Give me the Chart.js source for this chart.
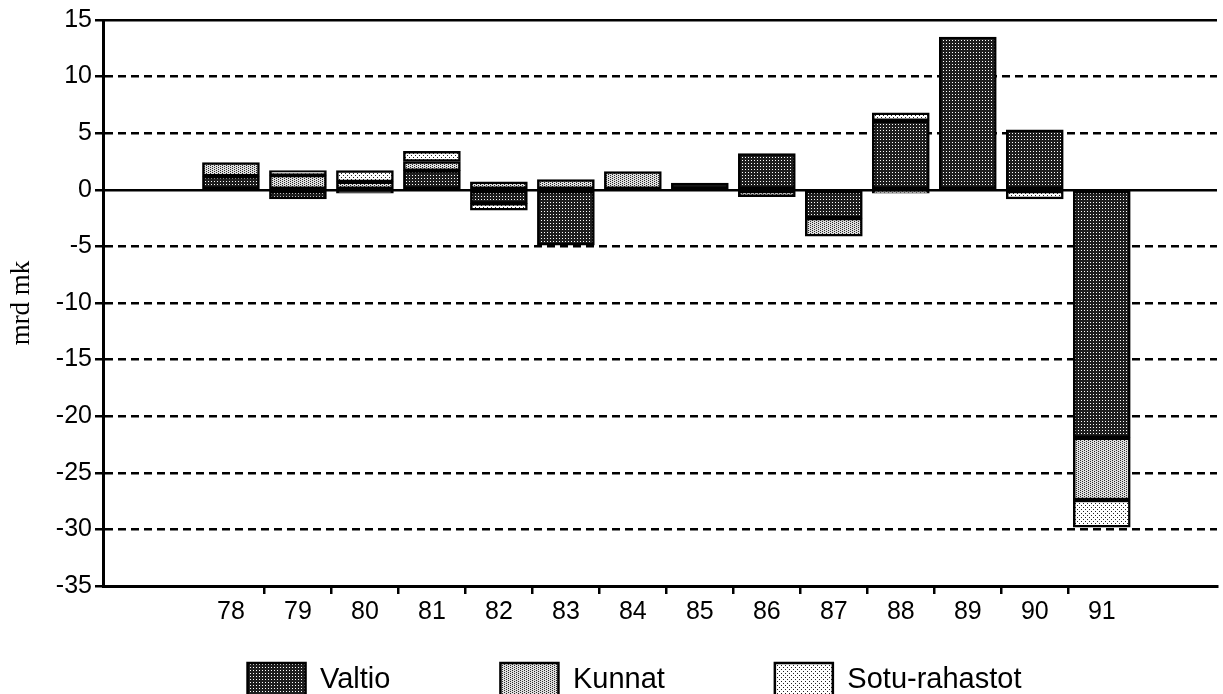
<!DOCTYPE html>
<html><head><meta charset="utf-8">
<script src="https://cdn.jsdelivr.net/npm/chart.js@4.4.0/dist/chart.umd.min.js"></script>
<style>
html,body{margin:0;padding:0;background:#fff;overflow:hidden}
#wrap{position:absolute;left:0;top:0;width:1223px;height:807px}
</style>
</head><body>
<div id="wrap"><canvas id="c"></canvas></div>
<script>
// ---- data ----
const categories = ['78','79','80','81','82','83','84','85','86','87','88','89','90','91'];
const valtio = [1.2, -0.8, -0.3, 1.7, -1.2, -4.9, null, 0.6, 3.2, -2.5, 6.1, 13.5, 5.3, -21.9];
const kunnat = [1.2, 1.3, 0.7, 0.8, 0.7, 0.9, 1.6, null, -0.6, -1.6, -0.3, null, null, -5.5];
const sotu   = [null, 0.4, 1.0, 0.9, -0.6, null, null, null, null, null, 0.7, null, -0.8, -2.4];
const seriesNames = ['Valtio', 'Kunnat', 'Sotu-rahastot'];
const yTicks = [15, 10, 5, 0, -5, -10, -15, -20, -25, -30, -35];
const yTitle = 'mrd mk';

// ---- fill patterns ----
function pattern(w, h, bg, fg, dots) {
  const c = document.createElement('canvas');
  c.width = w; c.height = h;
  const g = c.getContext('2d');
  g.fillStyle = bg; g.fillRect(0, 0, w, h);
  g.fillStyle = fg;
  dots.forEach(([x, y]) => g.fillRect(x, y, 1, 1));
  return g.createPattern(c, 'repeat');
}
const pat = [
  pattern(3, 3, '#1e1e1e', '#ffffff', [[1, 1]]),
  pattern(4, 4, '#dedede', '#2a2a2a', [[0, 0], [2, 1], [0, 2], [2, 3]]),
  pattern(4, 4, '#ffffff', '#222222', [[1, 1], [3, 3]])
];

const xs = categories.map(Number);
const seriesValues = [valtio, kunnat, sotu];
const datasets = seriesNames.map((name, i) => ({
  label: name,
  data: xs.map((x, j) => ({x: x, y: seriesValues[i][j]})),
  backgroundColor: pat[i],
  borderColor: '#000',
  borderWidth: 2.5,
  borderSkipped: false,
  barThickness: 57
}));

const xMin = xs[0] - 1.91, xMax = xs[xs.length - 1] + 1.72;
const LEGEND_PAD = 110;

const legendPlace = {
  id: 'legendPlace',
  afterLayout(chart) {
    const lg = chart.legend;
    if (!lg) return;
    lg.top = lg.top + 10 - LEGEND_PAD;
    lg.bottom = lg.top + lg.height;
    lg.left += 26; lg.right += 26;
  }
};

Chart.defaults.font.family = "'Liberation Sans', Arial, sans-serif";
Chart.defaults.color = '#000';

new Chart(document.getElementById('c'), {
  type: 'bar',
  data: {datasets},
  plugins: [legendPlace],
  options: {
    responsive: true,
    maintainAspectRatio: false,
    animation: false,
    layout: {padding: {top: 20, right: 6, left: 0, bottom: 0}},
    plugins: {
      tooltip: {enabled: false},
      legend: {
        position: 'bottom',
        labels: {
          boxWidth: 58, boxHeight: 34, padding: LEGEND_PAD,
          font: {size: 29}, color: '#000'
        }
      }
    },
    scales: {
      x: {
        type: 'linear',
        stacked: true,
        offset: false,
        min: xMin, max: xMax,
        afterBuildTicks: (s) => {
          const t = [];
          xs.forEach((v, i) => { t.push({value: v}); if (i < xs.length - 1) t.push({value: v + 0.5}); });
          s.ticks = t;
        },
        afterFit: (s) => { s.height = 67; },
        ticks: {
          autoSkip: false, maxRotation: 0, padding: 3,
          font: {size: 25}, color: '#000',
          callback: (v) => { const i = xs.indexOf(v); return i >= 0 ? categories[i] : ''; }
        },
        grid: {
          offset: false,
          drawOnChartArea: false, drawTicks: true, tickLength: 8,
          lineWidth: 2.5,
          tickColor: (ctx) => Number.isInteger(ctx.tick && ctx.tick.value) ? 'rgba(0,0,0,0)' : '#000'
        },
        border: {display: true, color: '#000', width: 3}
      },
      y: {
        stacked: true,
        min: yTicks[yTicks.length - 1], max: yTicks[0],
        afterBuildTicks: (s) => { s.ticks = yTicks.map(v => ({value: v})); },
        afterFit: (s) => { s.width = 103; },
        title: {display: true, text: yTitle, font: {family: "'Liberation Serif', 'Times New Roman', serif", size: 27}, color: '#000', padding: {top: 6, bottom: 0}},
        ticks: {font: {size: 25}, color: '#000', padding: 3},
        grid: {
          color: '#000', lineWidth: 2.5,
          drawTicks: true, tickLength: 8, tickColor: '#000'
        },
        border: {
          display: true, color: '#000', width: 3,
          dash: (ctx) => (ctx.tick && (ctx.tick.value === 0 || ctx.tick.value === yTicks[0])) ? [] : [8, 5]
        }
      }
    }
  }
});
</script>
</body></html>
